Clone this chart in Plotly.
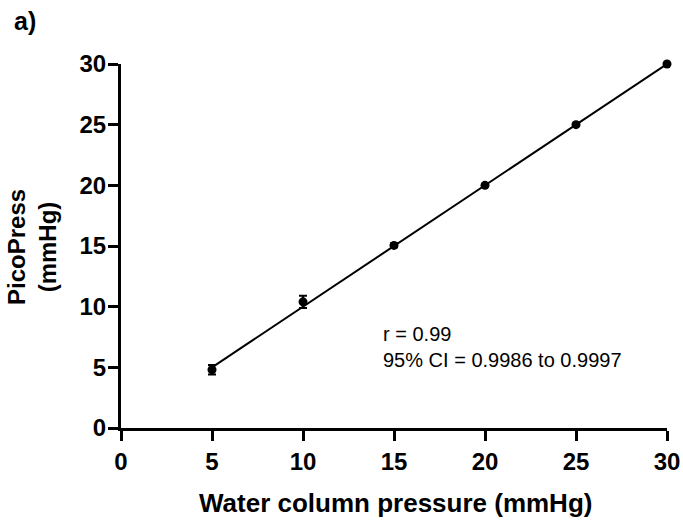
import plotly.graph_objects as go

x_vals = [5, 10, 15, 20, 25, 30]
y_vals = [4.8, 10.4, 15.05, 20.0, 25.0, 30.0]
y_err = [0.4, 0.5, 0.15, 0.1, 0.1, 0.1]
fit_x = [5, 30]
fit_y = [5.0, 30.0]
tick_vals = [0, 5, 10, 15, 20, 25, 30]

W, H = 683, 524
L, R, T, B = 121, 16, 64, 96
PW, PH = W - L - R, H - T - B

fig = go.Figure()
fig.add_trace(go.Scatter(x=fit_x, y=fit_y, mode="lines",
                         line=dict(color="black", width=2), showlegend=False, cliponaxis=False))
fig.add_trace(go.Scatter(x=x_vals, y=y_vals, mode="markers",
                         marker=dict(color="black", size=9),
                         error_y=dict(type="data", array=y_err, color="black", thickness=2, width=4),
                         showlegend=False, cliponaxis=False))

font_fam = "Arial, Liberation Sans, sans-serif"
axis_common = dict(showline=True, linecolor="black", linewidth=3, ticks="outside",
                   ticklen=10, tickwidth=3, tickcolor="black", showgrid=False, zeroline=False,
                   tickvals=tick_vals, tickfont=dict(family=font_fam, size=24, color="black", weight="bold"))
fig.update_xaxes(range=[0, 30], **axis_common)
fig.update_yaxes(range=[0, 30], ticklabelstandoff=-3, **axis_common)

def px(xp):
    return (xp - L) / PW

def py(yp):
    return (H - B - yp) / PH

fig.add_annotation(xref="paper", yref="paper", x=px(395), y=py(503), yanchor="middle",
                   text="Water column pressure (mmHg)", showarrow=False,
                   font=dict(family=font_fam, size=26, color="black", weight="bold"))
fig.add_annotation(xref="paper", yref="paper", x=px(32), y=py(247), xanchor="center", yanchor="middle",
                   text="PicoPress<br>(mmHg)", textangle=-90, showarrow=False,
                   font=dict(family=font_fam, size=24, color="black", weight="bold"))
fig.add_annotation(xref="paper", yref="paper", x=px(12), y=py(21), xanchor="left", yanchor="middle",
                   text="a)", showarrow=False,
                   font=dict(family=font_fam, size=25, color="black", weight="bold"))
fig.add_annotation(x=14.3, y=6.7, xanchor="left", yanchor="middle", align="left", showarrow=False,
                   text="r = 0.99<br>95% CI = 0.9986 to 0.9997",
                   font=dict(family=font_fam, size=20, color="black"))

fig.update_layout(width=W, height=H, margin=dict(l=L, r=R, t=T, b=B, autoexpand=False),
                  plot_bgcolor="white", paper_bgcolor="white")
fig.write_html("out.html", config={"displayModeBar": False},
               post_script="document.body.style.margin='0';document.body.style.overflow='hidden';")
